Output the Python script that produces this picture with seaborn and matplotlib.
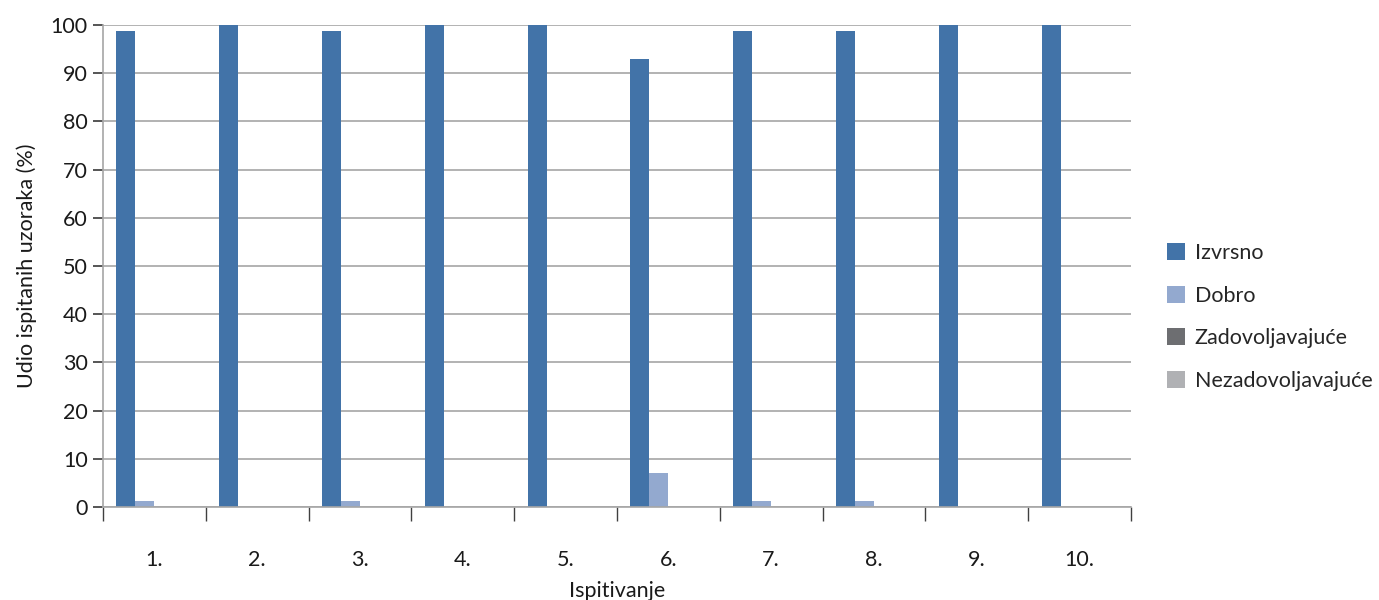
import numpy as np
import pandas as pd
import seaborn as sns
import matplotlib.pyplot as plt
from matplotlib.ticker import MultipleLocator, FixedLocator

categories = ["1.", "2.", "3.", "4.", "5.", "6.", "7.", "8.", "9.", "10."]
series = ["Izvrsno", "Dobro", "Zadovoljavajuće", "Nezadovoljavajuće"]
izvrsno = [98.8, 100, 98.8, 100, 100, 93, 98.8, 98.8, 100, 100]
dobro = [1.2, 0, 1.2, 0, 0, 7, 1.2, 1.2, 0, 0]
zadovoljavajuce = [0, 0, 0, 0, 0, 0, 0, 0, 0, 0]
nezadovoljavajuce = [0, 0, 0, 0, 0, 0, 0, 0, 0, 0]
colors = ["#4273A8", "#93A9CF", "#6D6E71", "#B0B1B4"]

df = pd.DataFrame({
    "Ispitivanje": categories * 4,
    "Ocjena": np.repeat(series, len(categories)),
    "Udio": izvrsno + dobro + zadovoljavajuce + nezadovoljavajuce,
})

sns.set_theme(style="white")
plt.rcParams["font.family"] = ["Lato", "DejaVu Sans"]

fig = plt.figure(figsize=(13.79, 6), dpi=100)
ax = fig.add_axes([103 / 1379, 1 - 507 / 600, (1131 - 103) / 1379, (507 - 25) / 600])

sns.barplot(data=df, x="Ispitivanje", y="Udio", hue="Ocjena", hue_order=series,
            palette=colors, width=0.74, gap=0, saturation=1, linewidth=0,
            errorbar=None, ax=ax)

ax.set_ylim(0, 100)
ax.set_xlim(-0.5, len(categories) - 0.5)
ax.yaxis.set_major_locator(MultipleLocator(10))
ax.grid(axis="y", color="#A6A6A6", linewidth=1.2)
ax.set_axisbelow(True)
for s in ["top", "right"]:
    ax.spines[s].set_visible(False)
for s in ["left", "bottom"]:
    ax.spines[s].set_color("#A6A6A6")
    ax.spines[s].set_linewidth(1.2)

txt = "#1a1a1a"
ax.tick_params(axis="y", which="major", left=True, length=7, color="#404040",
               labelsize=15.5, pad=4, labelcolor=txt)
ax.tick_params(axis="x", which="major", length=0, labelsize=15.5, pad=31,
               labelcolor=txt)
ax.xaxis.set_minor_locator(FixedLocator(np.arange(-0.5, len(categories), 1)))
ax.tick_params(axis="x", which="minor", bottom=True, length=10, color="#404040")

ax.set_xlabel("Ispitivanje", fontsize=15.5, labelpad=8, color=txt)
ax.set_ylabel("Udio ispitanih uzoraka (%)", fontsize=15.5, labelpad=10, color=txt)

ax.legend(loc="center left", bbox_to_anchor=(1158 / 1379, 1 - 317 / 600),
          bbox_transform=fig.transFigure, frameon=False, borderaxespad=0,
          fontsize=15.5, handlelength=0.85, handleheight=0.85, labelspacing=1.05,
          handletextpad=0.45)

fig.savefig("out.png", dpi=100)
